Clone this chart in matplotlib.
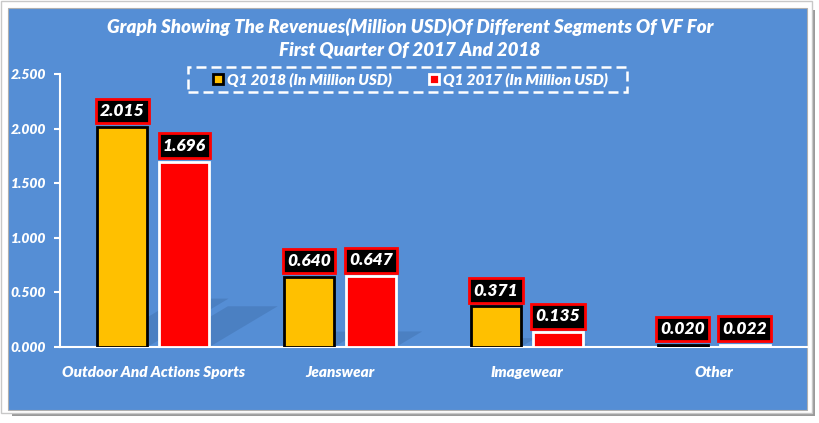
import matplotlib
matplotlib.use("Agg")
import matplotlib.pyplot as plt
from matplotlib.patches import Rectangle, Polygon
from matplotlib.lines import Line2D
import numpy as np

categories = ["Outdoor And Actions Sports", "Jeanswear", "Imagewear", "Other"]
q1_2018 = [2.015, 0.640, 0.371, 0.020]
q1_2017 = [1.696, 0.647, 0.135, 0.022]
series_names = ["Q1 2018 (In Million USD)", "Q1 2017 (In Million USD)"]
yticks = [0.0, 0.5, 1.0, 1.5, 2.0, 2.5]
title = "Graph Showing The Revenues(Million USD)Of Different Segments Of VF For\nFirst Quarter Of 2017 And 2018"

FONT = "Lato"
WEIGHT = "heavy"
BLUE = "#558ED5"
YEL = "#FFC000"
RED = "#FF0000"

W, H = 820, 423
fig = plt.figure(figsize=(W / 100, H / 100), dpi=100)
fig.patch.set_facecolor("white")

def fx(px):
    return px / W

def fy(py):
    return 1 - py / H

# outer frame shadow and panel
fig.patches.append(Rectangle((fx(12), fy(416)), fx(803), 406 / H, transform=fig.transFigure,
                             facecolor="#9a9a9a", edgecolor="none", zorder=0))
fig.patches.append(Rectangle((fx(1), fy(413)), fx(811), 412 / H, transform=fig.transFigure,
                             facecolor="white", edgecolor="#c8c8c8", lw=1, zorder=0.5))
fig.patches.append(Rectangle((fx(8), fy(410)), fx(799), 402 / H, transform=fig.transFigure,
                             facecolor=BLUE, edgecolor="#b0b0b0", lw=0.8, zorder=1))
# dashed legend frame
fig.patches.append(Rectangle((fx(188), fy(92)), fx(627 - 188), 25 / H, transform=fig.transFigure,
                             facecolor="none", edgecolor="white", lw=1.8,
                             linestyle=(0, (4, 2)), zorder=3))

ax = fig.add_axes([fx(60), fy(347), fx(807 - 60), (347 - 74) / H])
ax.set_facecolor("none")
ax.set_zorder(2)

x = np.arange(len(categories))
width = 0.267
off = 0.166
ax.set_xlim(-0.5, len(categories) - 0.5)
ax.set_ylim(0, 2.5)

# perspective shadows
for vals, sign in ((q1_2018, -1), (q1_2017, 1)):
    for xi, v in zip(x, vals):
        x0 = xi + sign * off - width / 2
        x1 = xi + sign * off + width / 2
        dx = 0.216 * v
        h = 0.22 * v
        ax.add_patch(Polygon([(x0, 0), (x1, 0), (x1 + dx, h), (x0 + dx, h)],
                             closed=True, facecolor="#2b4f80", alpha=0.22,
                             edgecolor="none", zorder=1))

b1 = ax.bar(x - off, q1_2018, width, color=YEL, edgecolor="black", linewidth=2, zorder=3)
b2 = ax.bar(x + off, q1_2017, width, color=RED, edgecolor="white", linewidth=2, zorder=3)

for bars, vals in ((b1, q1_2018), (b2, q1_2017)):
    for rect, v in zip(bars, vals):
        ax.annotate(f"{v:.3f}", (rect.get_x() + rect.get_width() / 2, v),
                    xytext=(0, 11.5), textcoords="offset points",
                    ha="center", va="center", color="white", fontsize=12.5,
                    fontweight=WEIGHT, fontstyle="italic", family=FONT, zorder=5,
                    bbox=dict(boxstyle="square,pad=0.25", facecolor="black",
                              edgecolor=RED, linewidth=2))

for s in ("top", "right"):
    ax.spines[s].set_visible(False)
for s in ("left", "bottom"):
    ax.spines[s].set_color("white")
    ax.spines[s].set_linewidth(1.5)

ax.set_yticks(yticks)
ax.set_yticklabels([f"{t:.3f}" for t in yticks])
ax.set_xticks(x)
ax.set_xticklabels(categories)
ax.tick_params(axis="y", colors="white", length=4, width=1.5, pad=6, labelsize=10)
ax.tick_params(axis="x", colors="white", length=0, pad=14, labelsize=11)
for lab in ax.get_yticklabels() + ax.get_xticklabels():
    lab.set_fontfamily(FONT)
    lab.set_fontweight(WEIGHT)
    lab.set_fontstyle("italic")

fig.text(fx(410), fy(38), title, ha="center", va="center", color="white",
         fontsize=13.5, fontweight=WEIGHT, fontstyle="italic", family=FONT,
         linespacing=1.35, zorder=3)

handles = [
    Line2D([], [], marker="s", linestyle="none", markersize=7.5, markerfacecolor=YEL,
           markeredgecolor="black", markeredgewidth=2),
    Line2D([], [], marker="s", linestyle="none", markersize=7.5, markerfacecolor=RED,
           markeredgecolor="white", markeredgewidth=2),
]
leg = fig.legend(handles, series_names, loc="center", bbox_to_anchor=(fx(410), fy(79.5)),
                 ncol=2, frameon=False, handlelength=0.7, handletextpad=0.25,
                 columnspacing=2.4, borderpad=0.3, prop=dict(family=FONT, weight=WEIGHT,
                                                            style="italic", size=11))
leg.set_zorder(4)
for t in leg.get_texts():
    t.set_color("white")

fig.savefig("out.png", dpi=100, facecolor=fig.get_facecolor())
